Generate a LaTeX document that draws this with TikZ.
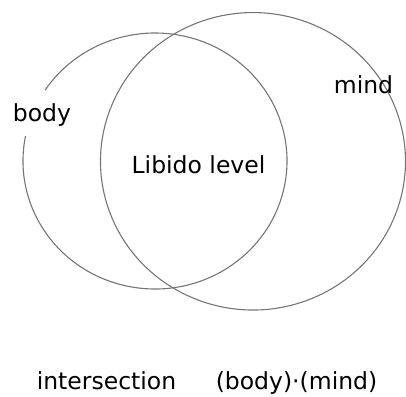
\documentclass[tikz,border=0pt]{standalone}
\usepackage{fontspec}
\setmainfont{DejaVu Sans}
\usepackage{tikz}
\usetikzlibrary{positioning, calc}
\definecolor{ringgray}{HTML}{757575}
\tikzset{
  ring/.style={draw=ringgray, line width=1.1pt},
  lbl/.style={font=\fontsize{23.5}{28}\selectfont, inner sep=0pt, anchor=base, text=black},
}

\begin{document}
\begin{tikzpicture}[x=1pt, y=1pt]

  \useasboundingbox (0,0) rectangle (406,396);

  %% ── Sets (two open ellipses) ─────────────────────────────────────────────

  \coordinate (cbody) at (155,235);
  \coordinate (cmind) at (253,234.7);

  % body ring, gap left open for its label
  \draw[ring] (cbody) ++(168.8:132 and 128)
    arc[start angle=168.8, end angle=506.3, x radius=132, y radius=128];

  % mind ring, gap left open for its label
  \draw[ring] (cmind) ++(21.8:152.5 and 148.7)
    arc[start angle=21.8, end angle=398.8, x radius=152.5, y radius=148.7];

  %% ── Labels ───────────────────────────────────────────────────────────────

  \node[lbl] (body)   at (42,274)    {body};
  \node[lbl] (mind)   at (363.5,302) {mind};
  \node[lbl] (libido) at (198.5,222) {Libido level};

  \node[lbl] (inter)  at (106.5,6.5) {intersection};
  \node[lbl] (prod)   at (296.5,6.5) {(body)·(mind)};

\end{tikzpicture}
\end{document}
